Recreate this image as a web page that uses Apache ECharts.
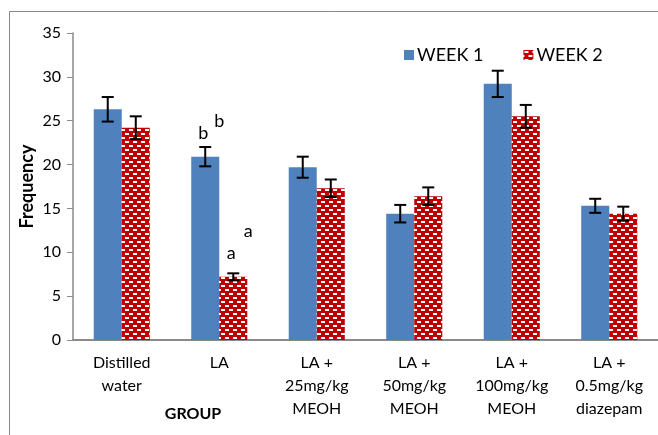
<!DOCTYPE html>
<html><head><meta charset="utf-8">
<script src="https://cdn.jsdelivr.net/npm/echarts@6/dist/echarts.min.js"></script>
<style>html,body{margin:0;padding:0;background:#fff}#c{width:658px;height:435px}</style>
</head><body><div id="c"></div>
<script>
const categories = ['Distilled\nwater', 'LA', 'LA +\n25mg/kg\nMEOH', 'LA +\n50mg/kg\nMEOH', 'LA +\n100mg/kg\nMEOH', 'LA +\n0.5mg/kg\ndiazepam'];
const seriesNames = ['WEEK 1', 'WEEK 2'];
const week1 = [26.3, 20.9, 19.7, 14.4, 29.2, 15.3];
const week2 = [24.2, 7.2, 17.3, 16.4, 25.5, 14.4];
const week1Err = [1.4, 1.1, 1.2, 1.0, 1.5, 0.8];
const week2Err = [1.3, 0.4, 1.0, 1.0, 1.3, 0.8];
const yMin = 0, yMax = 35, yStep = 5;
const annotationText = ['b', 'b', 'a', 'a'];
const annotationCategory = [1, 1, 1, 1];
const annotationValue = [23.6, 25.0, 9.9, 12.4];

const FONT = 'Lato, "Open Sans", sans-serif';

function makePattern() {
  const c = document.createElement('canvas');
  c.width = 8; c.height = 8;
  const g = c.getContext('2d');
  g.fillStyle = '#c00000'; g.fillRect(0, 0, 8, 8);
  g.fillStyle = '#ffffff';
  g.fillRect(1, 1, 4, 2);
  g.fillRect(5, 5, 3, 2);
  g.fillRect(0, 5, 1, 2);
  return c;
}
const redPattern = { image: makePattern(), repeat: 'repeat' };

function errSeries(vals, errs, side) {
  return {
    type: 'custom',
    z: 5,
    silent: true,
    data: vals.map((v, i) => [i, v, errs[i]]),
    encode: { x: 0, y: 1 },
    renderItem(params, api) {
      const ci = api.value(0), v = api.value(1), e = api.value(2);
      const band = api.size([1, 0])[0];
      const off = side * band * 0.14375;
      const top = api.coord([ci, v + e]);
      const bot = api.coord([ci, v - e]);
      const x = top[0] + off, cap = 6;
      const st = { stroke: '#000', lineWidth: 2 };
      return {
        type: 'group', children: [
          { type: 'line', shape: { x1: x, y1: top[1], x2: x, y2: bot[1] }, style: st },
          { type: 'line', shape: { x1: x - cap, y1: top[1], x2: x + cap, y2: top[1] }, style: st },
          { type: 'line', shape: { x1: x - cap, y1: bot[1], x2: x + cap, y2: bot[1] }, style: st }
        ]
      };
    }
  };
}

const annOffsets = [-16, 0, 12, 29];

const chart = echarts.init(document.getElementById('c'), null, { renderer: 'canvas' });
chart.setOption({
  animation: false,
  backgroundColor: '#fff',
  textStyle: { fontFamily: FONT },
  grid: { left: 73, right: 0, top: 33, bottom: 95, containLabel: false },
  legend: {
    left: 399, top: 41,
    itemWidth: 10, itemHeight: 10, itemGap: 40,
    icon: 'rect',
    data: seriesNames,
    textStyle: { fontSize: 18, color: '#000', fontFamily: FONT, padding: [0, 0, 0, -2] }
  },
  xAxis: {
    type: 'category',
    data: categories,
    axisLine: { lineStyle: { color: '#8a8a8a', width: 2 } },
    axisTick: { show: false },
    axisLabel: { fontSize: 16, lineHeight: 23, color: '#000', margin: 11, interval: 0, fontFamily: FONT }
  },
  yAxis: {
    type: 'value',
    min: yMin, max: yMax, interval: yStep,
    name: 'Frequency',
    nameLocation: 'middle',
    nameGap: 37,
    nameMoveOverlap: false,
    nameTextStyle: { fontSize: 18, fontWeight: 'bold', color: '#000', fontFamily: FONT },
    axisLine: { show: true, lineStyle: { color: '#8a8a8a', width: 1.5 } },
    axisTick: { show: true, inside: false, length: 6, lineStyle: { color: '#8a8a8a' } },
    axisLabel: { fontSize: 16, color: '#000', margin: 12, fontFamily: FONT },
    splitLine: { show: false }
  },
  graphic: [
    { type: 'rect', z: -10, silent: true, shape: { x: 9.5, y: 11.5, width: 700, height: 500 }, style: { fill: null, stroke: '#8a8a8a', lineWidth: 1 } },
    { type: 'text', x: 193, y: 414, style: { text: 'GROUP', font: 'bold 16px ' + FONT, fill: '#000', textAlign: 'center', textVerticalAlign: 'middle' } }
  ],
  series: [
    { name: seriesNames[0], type: 'bar', data: week1, barGap: '0%', barCategoryGap: '42.5%',
      itemStyle: { color: '#4f81bd' } },
    { name: seriesNames[1], type: 'bar', data: week2, barGap: '0%', barCategoryGap: '42.5%',
      itemStyle: { color: redPattern } },
    errSeries(week1, week1Err, -1),
    errSeries(week2, week2Err, 1),
    {
      type: 'custom', z: 6, silent: true,
      data: annotationText.map((t, i) => [annotationCategory[i], annotationValue[i], i]),
      encode: { x: 0, y: 1 },
      renderItem(params, api) {
        const p = api.coord([api.value(0), api.value(1)]);
        const idx = api.value(2);
        return { type: 'text', x: p[0] + annOffsets[idx], y: p[1],
          style: { text: annotationText[idx], font: '18px ' + FONT, fill: '#000', textAlign: 'center', textVerticalAlign: 'middle' } };
      }
    }
  ]
});
</script>
</body></html>
